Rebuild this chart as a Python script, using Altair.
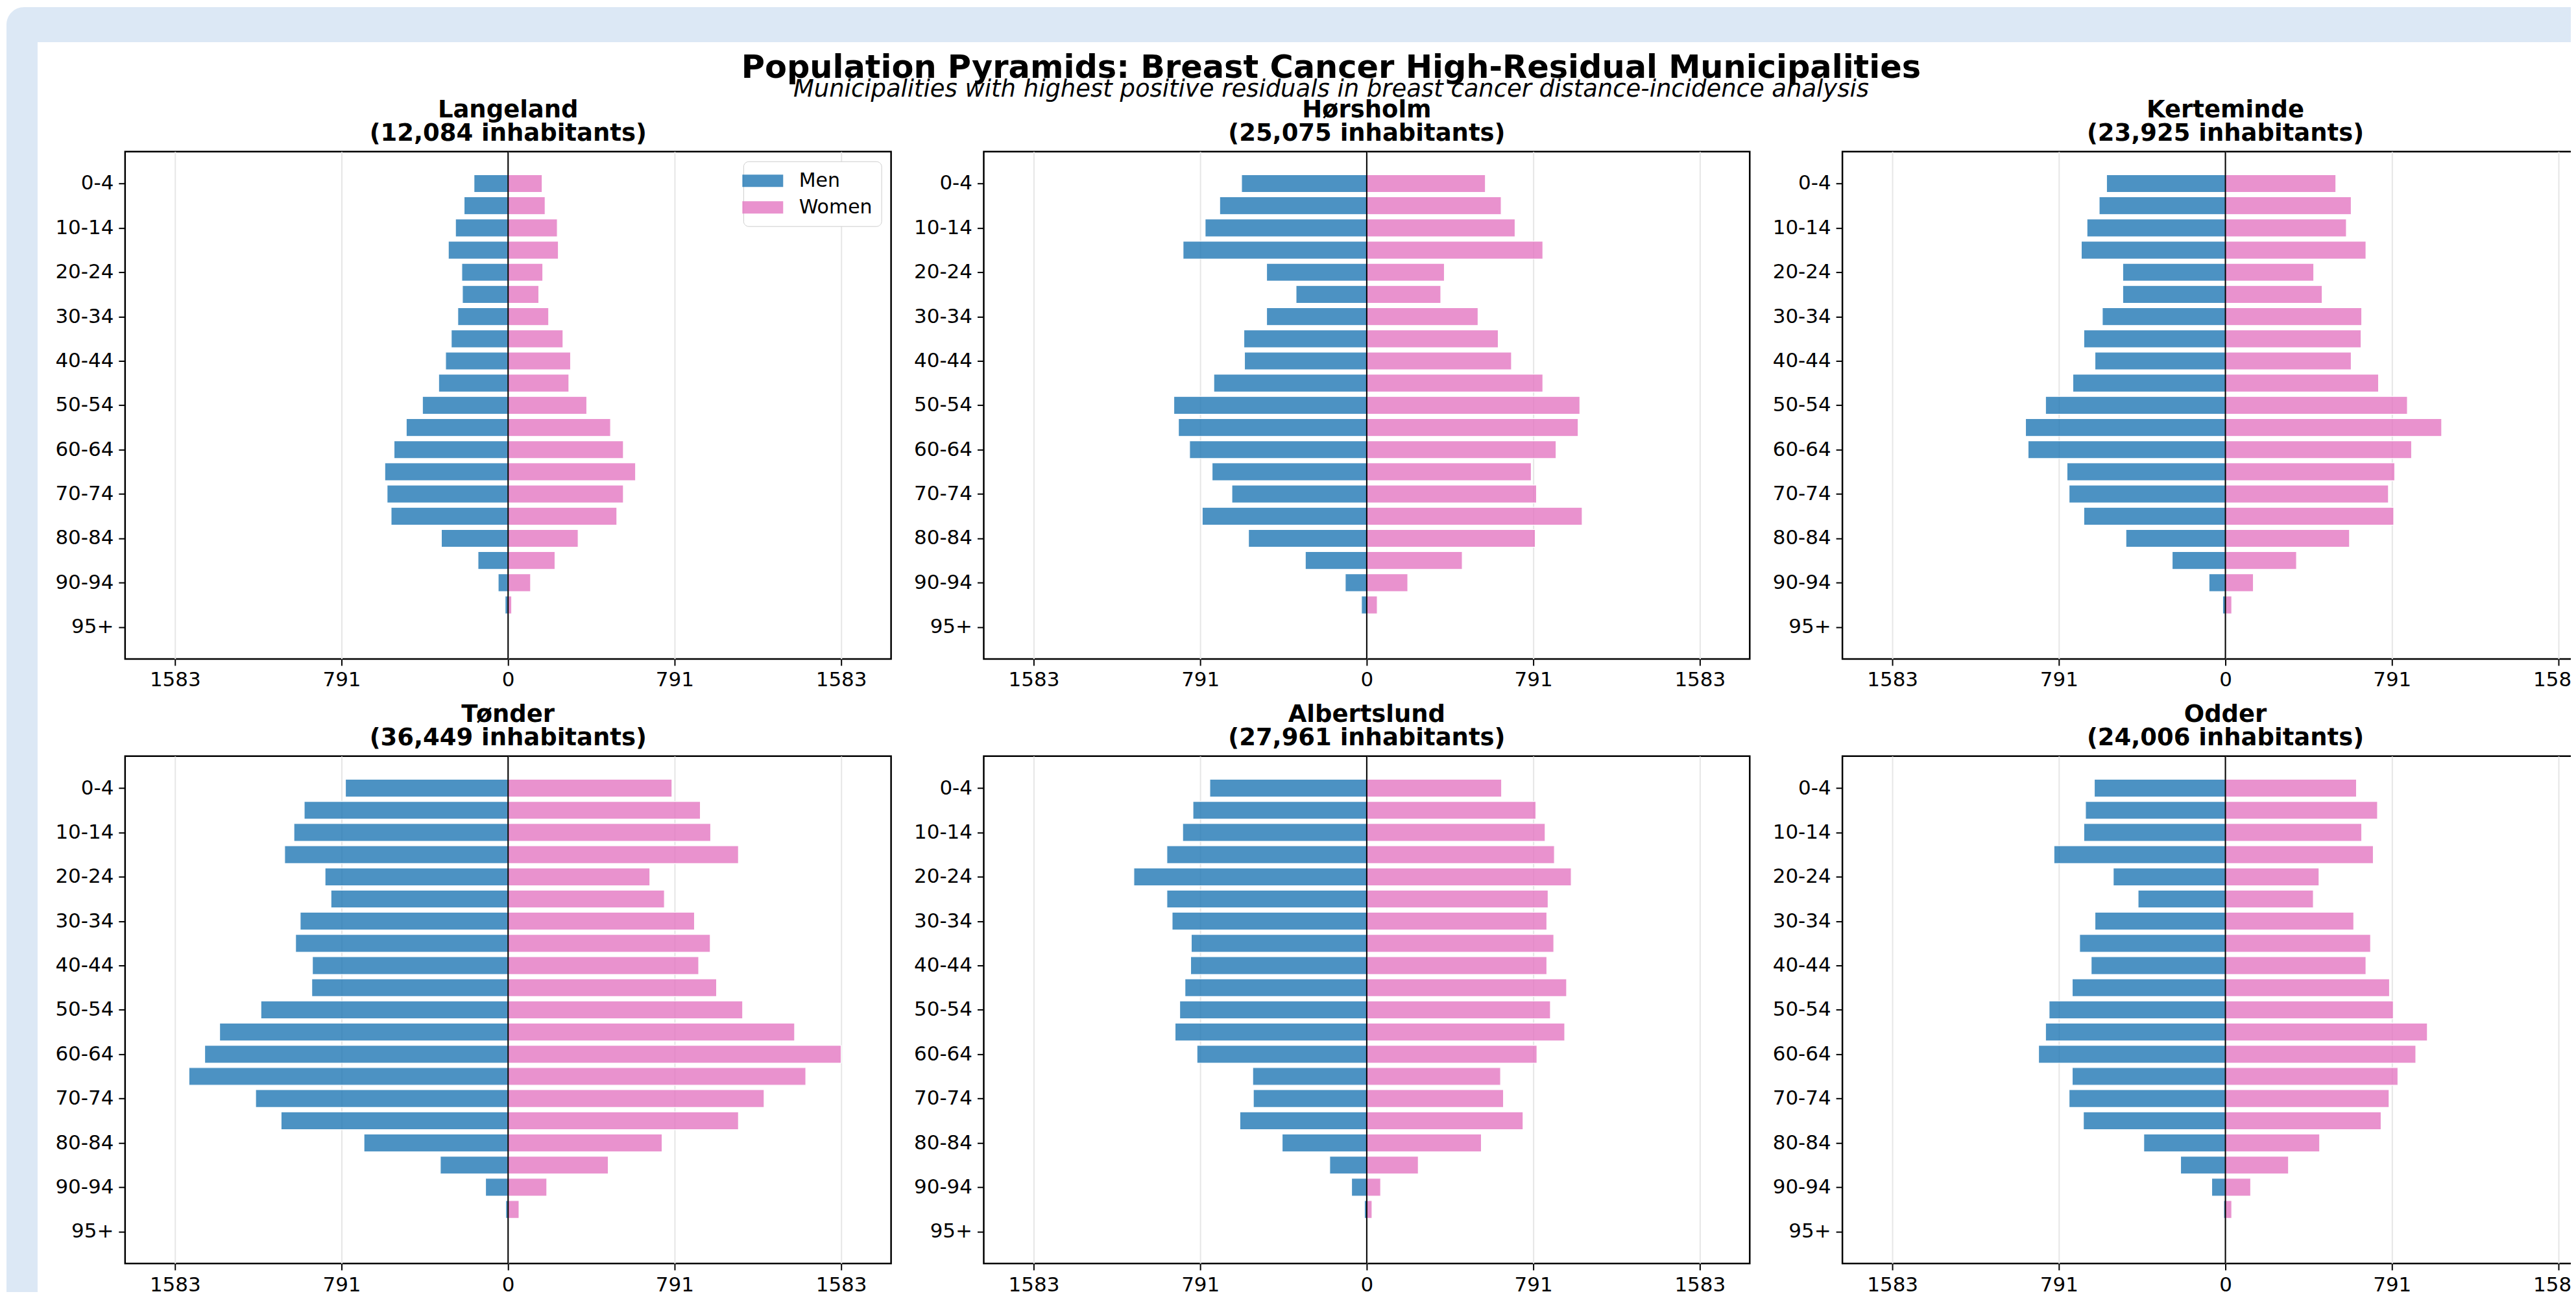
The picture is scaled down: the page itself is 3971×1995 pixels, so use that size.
import altair as alt
import pandas as pd

# ---------------- data ----------------
municipalities = ["Langeland", "Hørsholm", "Kerteminde", "Tønder", "Albertslund", "Odder"]
inhabitants = [12084, 25075, 23925, 36449, 27961, 24006]

age_groups = ["0-4", "5-9", "10-14", "15-19", "20-24", "25-29", "30-34", "35-39",
              "40-44", "45-49", "50-54", "55-59", "60-64", "65-69", "70-74", "75-79",
              "80-84", "85-89", "90-94", "95-99"]
tick_labels = ["0-4", "10-14", "20-24", "30-34", "40-44", "50-54", "60-64",
               "70-74", "80-84", "90-94", "95+"]

men_langeland = [162, 209, 250, 284, 220, 217, 239, 270, 297, 330, 407, 484, 542, 586, 575, 556, 317, 143, 47, 14]
women_langeland = [162, 176, 234, 239, 165, 146, 193, 261, 297, 289, 374, 487, 548, 606, 548, 517, 333, 223, 107, 17]

men_horsholm = [595, 699, 768, 873, 476, 336, 476, 584, 581, 727, 917, 895, 842, 735, 641, 782, 562, 292, 102, 25]
women_horsholm = [564, 639, 705, 837, 369, 352, 529, 625, 688, 837, 1013, 1005, 900, 782, 807, 1024, 801, 454, 195, 50]

men_kerteminde = [565, 600, 658, 685, 488, 488, 585, 673, 620, 725, 855, 950, 938, 753, 743, 673, 473, 253, 78, 13]
women_kerteminde = [525, 598, 575, 668, 420, 460, 648, 645, 598, 728, 865, 1028, 885, 805, 775, 800, 590, 338, 133, 30]

men_tonder = [773, 969, 1018, 1062, 870, 842, 988, 1010, 930, 933, 1175, 1371, 1442, 1517, 1200, 1079, 685, 322, 107, 11]
women_tonder = [779, 914, 963, 1095, 674, 743, 886, 961, 906, 991, 1115, 1362, 1583, 1415, 1217, 1095, 732, 476, 184, 52]

men_albertslund = [746, 826, 875, 950, 1107, 950, 925, 834, 837, 864, 889, 911, 807, 542, 539, 603, 402, 176, 72, 11]
women_albertslund = [641, 804, 848, 892, 972, 862, 856, 889, 856, 950, 873, 941, 809, 636, 650, 743, 545, 245, 66, 25]

men_odder = [623, 665, 673, 815, 533, 415, 620, 693, 638, 728, 838, 855, 888, 728, 743, 675, 388, 213, 65, 8]
women_odder = [623, 723, 648, 703, 445, 418, 610, 690, 668, 780, 798, 960, 905, 820, 778, 740, 448, 300, 120, 30]

men_all = [men_langeland, men_horsholm, men_kerteminde, men_tonder, men_albertslund, men_odder]
women_all = [women_langeland, women_horsholm, women_kerteminde, women_tonder, women_albertslund, women_odder]

max_val = 1583
x_ticks = [-1583, -791.5, 0, 791.5, 1583]
y_ticks = [0, 2, 4, 6, 8, 10, 12, 14, 16, 18, 20]

main_title = "Population Pyramids: Breast Cancer High-Residual Municipalities"
sub_title = "Municipalities with highest positive residuals in breast cancer distance-incidence analysis"

# ---------------- style ----------------
FONT = "DejaVu Sans"
BLUE = "#1f77b4"
PINK = "#e377c2"
BORDER_BLUE = "#dce8f5"
W, H = 1182, 783
XMAX = max_val * 1.15

y_label_expr = "[" + ",".join("'%s'" % t for t in tick_labels) + "][round(datum.value/2)]"


def panel(i):
    rows = []
    for k, ag in enumerate(age_groups):
        rows.append({"idx": k, "age": ag, "sex": "Men", "val": -men_all[i][k]})
        rows.append({"idx": k, "age": ag, "sex": "Women", "val": women_all[i][k]})
    df = pd.DataFrame(rows)

    if i == 0:
        legend = alt.Legend(
            title=None, orient="top-right", offset=15,
            fillColor="white", strokeColor="#cccccc", cornerRadius=8, padding=14,
            labelFont=FONT, labelFontSize=30, labelColor="black",
            symbolType="M-2,-0.6H2V0.6H-2Z", symbolSize=992, symbolOpacity=0.8,
            symbolStrokeWidth=0, labelOffset=40, rowPadding=10,
        )
    else:
        legend = None

    bars = alt.Chart(df).transform_calculate(
        y0="datum.idx - 0.4", y1="datum.idx + 0.4", zero="0"
    ).mark_bar(stroke="white", strokeWidth=1.2, fillOpacity=0.8).encode(
        x=alt.X("val:Q",
                scale=alt.Scale(domain=[-XMAX, XMAX], nice=False, zero=False),
                axis=alt.Axis(values=x_ticks, labelExpr="'' + floor(abs(datum.value))",
                              grid=True, title=None)),
        x2="zero:Q",
        y=alt.Y("y0:Q",
                scale=alt.Scale(domain=[-1.44, 21.44], nice=False, zero=False, reverse=True),
                axis=alt.Axis(values=y_ticks, labelExpr=y_label_expr, grid=False, title=None)),
        y2="y1:Q",
        color=alt.Color("sex:N",
                        scale=alt.Scale(domain=["Men", "Women"], range=[BLUE, PINK]),
                        legend=legend),
    )

    zero_rule = alt.Chart(pd.DataFrame({"z": [0]})).mark_rule(
        color="black", strokeWidth=2
    ).encode(x=alt.X("z:Q"))

    info = pd.DataFrame({
        "name": [municipalities[i]],
        "pop": ["(%s inhabitants)" % format(inhabitants[i], ",")],
        "t": [main_title], "s": [sub_title],
    })
    title1 = alt.Chart(info).mark_text(
        font=FONT, fontSize=37, fontWeight="bold", color="black",
        align="center", baseline="alphabetic"
    ).encode(text="name:N", x=alt.value(W / 2), y=alt.value(-53))
    title2 = alt.Chart(info).mark_text(
        font=FONT, fontSize=37, fontWeight="bold", color="black",
        align="center", baseline="alphabetic"
    ).encode(text="pop:N", x=alt.value(W / 2), y=alt.value(-17))

    layers = [bars, zero_rule, title1, title2]

    if i == 0:
        # light-blue frame around the figure (top strip with rounded corner + left strip)
        top_strip = alt.Chart(info).mark_rect(
            color=BORDER_BLUE, cornerRadiusTopLeft=36
        ).encode(x=alt.value(-183), x2=alt.value(3832), y=alt.value(-223), y2=alt.value(-169))
        left_strip = alt.Chart(info).mark_rect(color=BORDER_BLUE).encode(
            x=alt.value(-183), x2=alt.value(-135), y=alt.value(-169), y2=alt.value(1760))
        layers = [top_strip, left_strip] + layers
    if i == 1:
        t1 = alt.Chart(info).mark_text(
            font=FONT, fontSize=49.5, fontWeight="bold", color="black",
            align="center", baseline="alphabetic"
        ).encode(text="t:N", x=alt.value(536), y=alt.value(-114))
        t2 = alt.Chart(info).mark_text(
            font=FONT, fontSize=37, fontStyle="italic", color="black",
            align="center", baseline="alphabetic"
        ).encode(text="s:N", x=alt.value(536), y=alt.value(-85))
        layers = layers + [t1, t2]

    return alt.layer(*layers).properties(width=W, height=H)


panels = [panel(i) for i in range(6)]

chart = alt.concat(
    *panels, columns=3, spacing=alt.RowColnumber(row=150, column=143), bounds="flush"
).resolve_scale(color="independent").resolve_legend(color="independent").properties(
    padding={"left": 0, "top": 0, "right": -60, "bottom": 0}, background="white"
).configure_view(
    stroke="black", strokeWidth=2.5, fill="white"
).configure_axis(
    labelFont=FONT, labelFontSize=31, labelColor="black",
    tickColor="black", tickWidth=2, tickSize=10, labelPadding=8,
    domain=False, gridColor="#e6e6e6", gridWidth=2,
)

chart.save("out.html", embed_options={"renderer": "svg", "actions": False})
